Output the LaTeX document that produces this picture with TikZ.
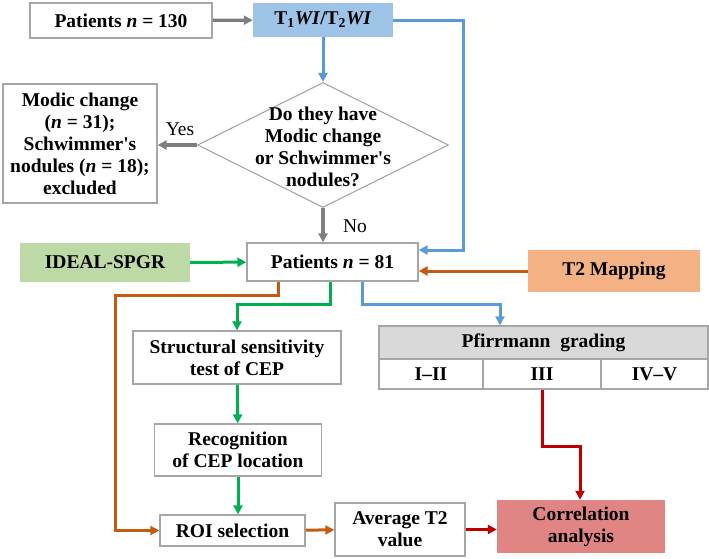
\documentclass[tikz,border=0pt]{standalone}
\usepackage{fontspec}
\setmainfont{Liberation Serif}[Ligatures=TeXOff]
\usepackage{tikz}
\usetikzlibrary{arrows.meta,shapes.geometric}
\definecolor{arrgray}{HTML}{7F7F7F}
\definecolor{arrblue}{HTML}{5B9BD5}
\definecolor{arrgreen}{HTML}{00B050}
\definecolor{arrorange}{HTML}{C55A11}
\definecolor{arrred}{HTML}{C00000}
\definecolor{fillblue}{HTML}{9DC3E6}
\definecolor{fillgreen}{HTML}{BDD9A6}
\definecolor{fillorange}{HTML}{F4B183}
\definecolor{fillred}{HTML}{E08484}
\definecolor{fillgray}{HTML}{D9D9D9}
\definecolor{edgegray}{HTML}{A6A6A6}

\begin{document}
\begin{tikzpicture}[x=1pt, y=-1pt,
		font=\fontsize{19.5}{22}\selectfont\bfseries,
		box/.style={draw=edgegray, line width=1.3pt, align=center, inner sep=0pt},
		colbox/.style={align=center, inner sep=0pt},
		flow/.style={line width=3pt, -{Triangle[length=9pt,width=9pt]}},
		lbl/.style={font=\fontsize{19.5}{22}\selectfont\mdseries}]
			%%%%% START %%%%%
			\useasboundingbox (0,0) rectangle (709,558);
			
			\node[box, minimum width=182pt, minimum height=35pt] (pat130) at (121,20.5) {Patients \textit{n} = 130};
			\node[colbox, fill=fillblue, minimum width=140pt, minimum height=34pt] (t1t2) at (323,20) {T\textsubscript{1}\textit{WI}/T\textsubscript{2}\textit{WI}};
			
			\node[diamond, draw=edgegray, line width=1.1pt, inner sep=0pt, minimum width=251pt, minimum height=125pt] (decide) at (323,145) {};
			\node[align=center] (dtext) at (323,147) {Do they have\\Modic change\\or Schwimmer's\\nodules?};
			\node[box, minimum width=154pt, minimum height=119pt] (modic) at (80,143.5) {Modic change\\(\textit{n} = 31);\\Schwimmer's\\nodules (\textit{n} = 18);\\excluded};
			\node[lbl] (lblyes) at (180,129) {Yes};
			\node[lbl] (lblno) at (355,226) {No};
			
			\node[box, minimum width=171pt, minimum height=38pt] (pat81) at (332.5,262) {Patients \textit{n} = 81};
			\node[colbox, fill=fillgreen, minimum width=170pt, minimum height=39pt] (ideal) at (105,262.5) {IDEAL-SPGR};
			\node[colbox, fill=fillorange, minimum width=172pt, minimum height=42pt] (t2map) at (614,271) {T2 Mapping};
			
			\node[box, minimum width=208pt, minimum height=53pt] (struct) at (237,357.5) {Structural sensitivity\\test of CEP};
			\node[box, fill=fillgray, minimum width=329pt, minimum height=33pt] (pheader) at (543.5,342.5) {Pfirrmann\ \ grading};
			\node[box, minimum width=104pt, minimum height=30pt] (grA) at (431,374) {I\textendash II};
			\node[box, minimum width=118pt, minimum height=30pt] (grB) at (542,374) {III};
			\node[box, minimum width=107pt, minimum height=30pt] (grC) at (654.5,374) {IV\textendash V};
			
			\node[box, minimum width=167pt, minimum height=52pt] (recog) at (238,450) {Recognition\\of CEP location};
			\node[box, minimum width=145pt, minimum height=31pt] (roi) at (232.5,530.5) {ROI selection};
			\node[box, minimum width=130pt, minimum height=53pt] (avg) at (400,529.5) {Average T2\\value};
			\node[colbox, fill=fillred, minimum width=168pt, minimum height=53pt] (corr) at (581,526.5) {Correlation\\analysis};
			
			\coordinate (oTurn) at (115,295);
			\coordinate (gTurn) at (237,304);
			\coordinate (bTurn) at (500,304);
			\coordinate (rTurn) at (580,446);
			
			\draw[flow, arrgray, line width=3.4pt] (pat130) -- (t1t2);
			\draw[flow, arrblue] (t1t2) -- (decide.north);
			\draw[flow, arrblue] (t1t2.east) -- ++(70,0) |- ([yshift=12pt]pat81.east);
			\draw[flow, arrgray, line width=3.4pt] (decide.west) -- (decide.west -| modic.east);
			\draw[flow, arrgray, line width=3.4pt] (decide.south) -- (decide.south |- pat81.north);
			
			\draw[flow, arrgreen] (ideal) -- (pat81);
			\draw[flow, arrorange] (t2map.west) -- ([yshift=-9pt]pat81.east);
			
			\draw[flow, arrorange] ([xshift=-54.5pt]pat81.south) |- (oTurn) |- (roi.west);
			\draw[flow, arrgreen] ([xshift=-2.5pt]pat81.south) |- (gTurn) -- (struct.north);
			\draw[flow, arrblue] ([xshift=29.5pt]pat81.south) |- (bTurn) -- (bTurn |- pheader.north);
			
			\draw[flow, arrgreen] (struct) -- (recog);
			\draw[flow, arrgreen] (recog.south) -- (recog.south |- roi.north);
			\draw[flow, arrorange] (roi) -- (avg);
			\draw[flow, arrred] (avg) -- (avg -| corr.west);
			\draw[flow, arrred] (grB.south) |- (rTurn) -- (rTurn |- corr.north);
			%%%%% END %%%%%
		\end{tikzpicture}
\end{document}
